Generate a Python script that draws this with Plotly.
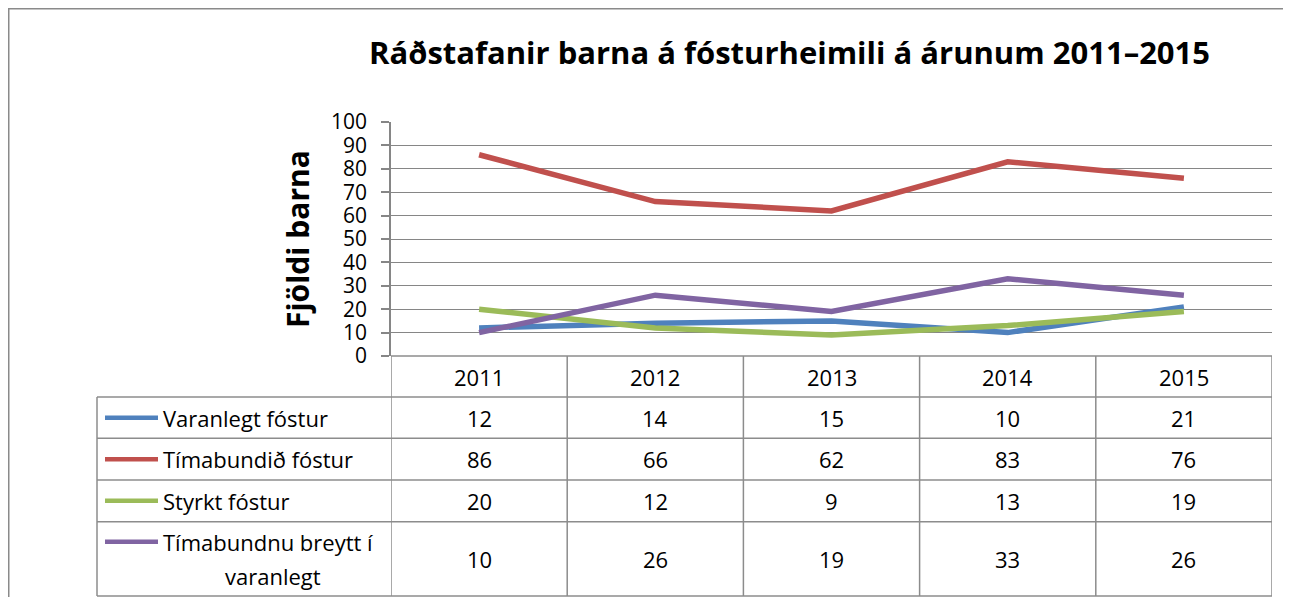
import plotly.graph_objects as go

# ---------------- data ----------------
years = ["2011", "2012", "2013", "2014", "2015"]
series_names = ["Varanlegt fóstur", "Tímabundið fóstur", "Styrkt fóstur",
                "Tímabundnu breytt í varanlegt"]
varanlegt = [12, 14, 15, 10, 21]
timabundid = [86, 66, 62, 83, 76]
styrkt = [20, 12, 9, 13, 19]
breytt = [10, 26, 19, 33, 26]
series_values = [varanlegt, timabundid, styrkt, breytt]
colors = ["#4F81BD", "#C0504D", "#9BBB59", "#8064A2"]
y_ticks = list(range(0, 101, 10))
title_text = "Ráðstafanir barna á fósturheimili á árunum 2011–2015"
y_title = "Fjöldi barna"

# ---------------- layout geometry ----------------
W, H = 1275, 589
OFF = 8                  # default page body margin
L, R, T, B = 383, 11, 114, 241
PW = W - L - R
PH = H - T - B
FONT = "'Open Sans', Lato, sans-serif"
GRID = "#868686"
BORDER = "#8c8c8c"
TS = 22


def px(x):
    return (x - OFF - L) / PW


def py(y):
    return (H - B - (y - OFF)) / PH


fig = go.Figure()
for name, vals, col in zip(series_names, series_values, colors):
    fig.add_trace(go.Scatter(x=list(range(len(years))), y=vals, mode="lines", name=name,
                             line=dict(color=col, width=5.5),
                             showlegend=False, hoverinfo="skip"))

shapes = []
ann = []

# outer chart border (top and left visible)
shapes.append(dict(type="line", xref="paper", yref="paper",
                   x0=px(8), x1=px(1400), y0=py(8.5), y1=py(8.5),
                   line=dict(color="#8a8a8a", width=2)))
shapes.append(dict(type="line", xref="paper", yref="paper",
                   x0=px(8.5), x1=px(8.5), y0=py(8), y1=py(700),
                   line=dict(color="#8a8a8a", width=2)))

# data table
row_lines = [356, 397, 438.3, 480, 521.7, 596]
row_centers = [(row_lines[i] + row_lines[i + 1]) / 2 for i in range(len(row_lines) - 1)]
tbl_left = 97
for k in range(len(years) + 1):
    shapes.append(dict(type="line", xref="x", yref="paper",
                       x0=k - 0.5, x1=k - 0.5, y0=py(356), y1=py(596),
                       line=dict(color=BORDER, width=1.5)))
shapes.append(dict(type="line", xref="paper", yref="paper",
                   x0=px(tbl_left), x1=px(tbl_left), y0=py(397), y1=py(596),
                   line=dict(color=BORDER, width=1.5)))
for i, yy in enumerate(row_lines):
    x0 = px(391) if i == 0 else px(tbl_left)
    shapes.append(dict(type="line", xref="paper", yref="paper",
                       x0=x0, x1=1, y0=py(yy), y1=py(yy),
                       line=dict(color=BORDER, width=1.5)))

# header years
for ci, c in enumerate(years):
    ann.append(dict(x=ci, xref="x", y=py(row_centers[0]), yref="paper",
                    text=c, showarrow=False, xanchor="center", yanchor="middle",
                    font=dict(family=FONT, size=TS, color="black")))

# series rows
for r, (name, vals, col) in enumerate(zip(series_names, series_values, colors)):
    yc = row_centers[r + 1]
    ytxt = yc if r < 3 else 541.7
    shapes.append(dict(type="line", xref="paper", yref="paper",
                       x0=px(105), x1=px(158), y0=py(ytxt), y1=py(ytxt),
                       line=dict(color=col, width=4.5)))
    if r < 3:
        ann.append(dict(x=px(161), xref="paper", y=py(yc), yref="paper",
                        text=name, showarrow=False, xanchor="left", yanchor="middle",
                        font=dict(family=FONT, size=TS, color="black")))
    else:
        first, last = name.rsplit(" ", 1)
        ann.append(dict(x=px(161), xref="paper", y=py(541.7), yref="paper",
                        text=first, showarrow=False, xanchor="left", yanchor="middle",
                        font=dict(family=FONT, size=TS, color="black")))
        ann.append(dict(x=px(273), xref="paper", y=py(575.5), yref="paper",
                        text=last, showarrow=False, xanchor="center", yanchor="middle",
                        font=dict(family=FONT, size=TS, color="black")))
    for ci, v in enumerate(vals):
        ann.append(dict(x=ci, xref="x", y=py(yc), yref="paper",
                        text=str(v), showarrow=False, xanchor="center", yanchor="middle",
                        font=dict(family=FONT, size=TS, color="black")))

# title
ann.append(dict(x=px(789), xref="paper", y=py(52), yref="paper",
                text="<b>" + title_text + "</b>", showarrow=False,
                xanchor="center", yanchor="middle",
                font=dict(family=FONT, size=31, color="black")))
# y axis title
ann.append(dict(x=px(297), xref="paper", y=py(239), yref="paper",
                text="<b>" + y_title + "</b>", showarrow=False, textangle=-90,
                xanchor="center", yanchor="middle",
                font=dict(family=FONT, size=30, color="black")))

fig.update_layout(
    width=W, height=H,
    margin=dict(l=L, r=R, t=T, b=B, pad=0),
    paper_bgcolor="white", plot_bgcolor="white",
    shapes=shapes, annotations=ann,
    xaxis=dict(range=[-0.5, len(years) - 0.5],
               showticklabels=False, showgrid=False, zeroline=False,
               showline=False, ticks=""),
    yaxis=dict(range=[0, 100], tickvals=y_ticks, showgrid=True,
               gridcolor=GRID, gridwidth=1, zeroline=False,
               showline=True, linecolor=GRID, linewidth=1.5,
               ticks="outside", ticklen=8, tickcolor=GRID, tickwidth=1.5,
               ticklabelstandoff=10,
               tickfont=dict(family=FONT, size=21, color="black")),
)

fig.write_html("out.html", config={"displayModeBar": False})
